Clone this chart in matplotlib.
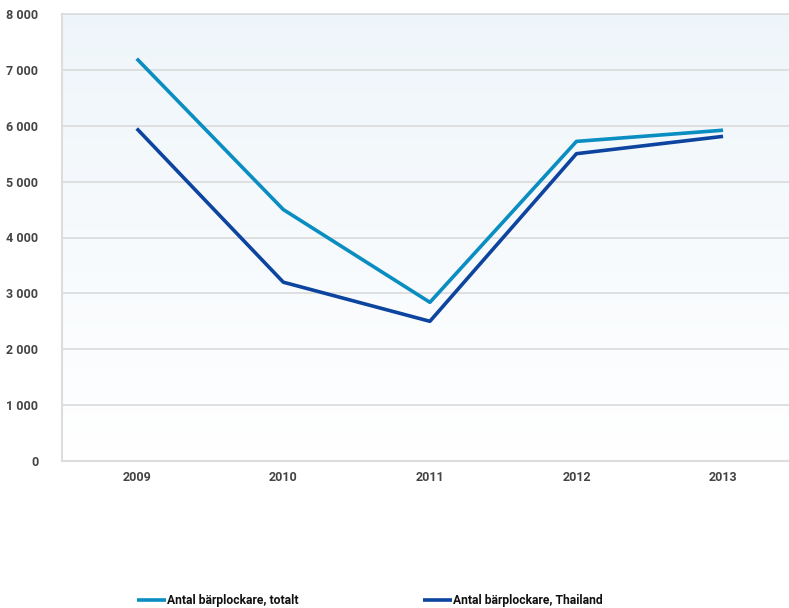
import matplotlib
matplotlib.use('Agg')
import matplotlib.pyplot as plt
import numpy as np

plt.rcParams['font.family'] = ['Roboto', 'DejaVu Sans']

years = ['2009', '2010', '2011', '2012', '2013']
totalt = [7200, 4500, 2840, 5720, 5920]
thailand = [5950, 3200, 2500, 5500, 5810]
yticks = [0, 1000, 2000, 3000, 4000, 5000, 6000, 7000, 8000]
ytick_labels = ['0', '1 000', '2 000', '3 000', '4 000', '5 000', '6 000', '7 000', '8 000']

c_tot = '#0a8dc0'
c_thai = '#0c44a0'
txt = '#444444'

fig = plt.figure(figsize=(7.89, 6.08), dpi=100)
ax = fig.add_axes([62/789, 147/608, 1 - 62/789, 447/608])

x = np.arange(len(years))
ax.set_xlim(-0.51, 4.45)
ax.set_ylim(0, 8000)

# light blue-to-white background gradient
grad = np.linspace(1, 0, 256).reshape(-1, 1)
top = np.array([0.935, 0.962, 0.982])
bot = np.array([1.0, 1.0, 1.0])
img = bot + (top - bot) * grad[..., None]
ax.imshow(img, extent=[-0.51, 4.45, 0, 8000], aspect='auto', zorder=0)

ax.plot(x, totalt, color=c_tot, lw=2.6, label='Antal bärplockare, totalt', zorder=3, solid_capstyle='butt')
ax.plot(x, thailand, color=c_thai, lw=2.6, label='Antal bärplockare, Thailand', zorder=3, solid_capstyle='butt')

ax.set_yticks(yticks)
ax.set_yticklabels(ytick_labels)
ax.set_xticks(x)
ax.set_xticklabels(years)
ax.yaxis.grid(True, color='#dddddd', lw=1.3)
for l in ax.get_ygridlines():
    l.set_zorder(1)

ax.spines['right'].set_visible(False)
ax.spines['top'].set_color('#dddddd')
ax.spines['top'].set_linewidth(1.3)
ax.spines['left'].set_color('#dddddd')
ax.spines['left'].set_linewidth(1.5)
ax.spines['bottom'].set_color('#dddddd')
ax.spines['bottom'].set_linewidth(1.5)
ax.tick_params(length=0, labelsize=9, labelcolor=txt)
ax.tick_params(axis='y', pad=17)
ax.tick_params(axis='x', pad=7)
for lab in ax.get_xticklabels() + ax.get_yticklabels():
    lab.set_fontweight('bold')

leg = fig.legend(loc='lower left', bbox_to_anchor=(131/789, -0.008), ncol=2, frameon=False,
                 handlelength=2.4, handletextpad=0.1, columnspacing=10.3,
                 prop={'size': 8.7, 'weight': 'bold'}, borderaxespad=0.1)
for t in leg.get_texts():
    t.set_color('#111111')

fig.savefig('out.png', dpi=100)
